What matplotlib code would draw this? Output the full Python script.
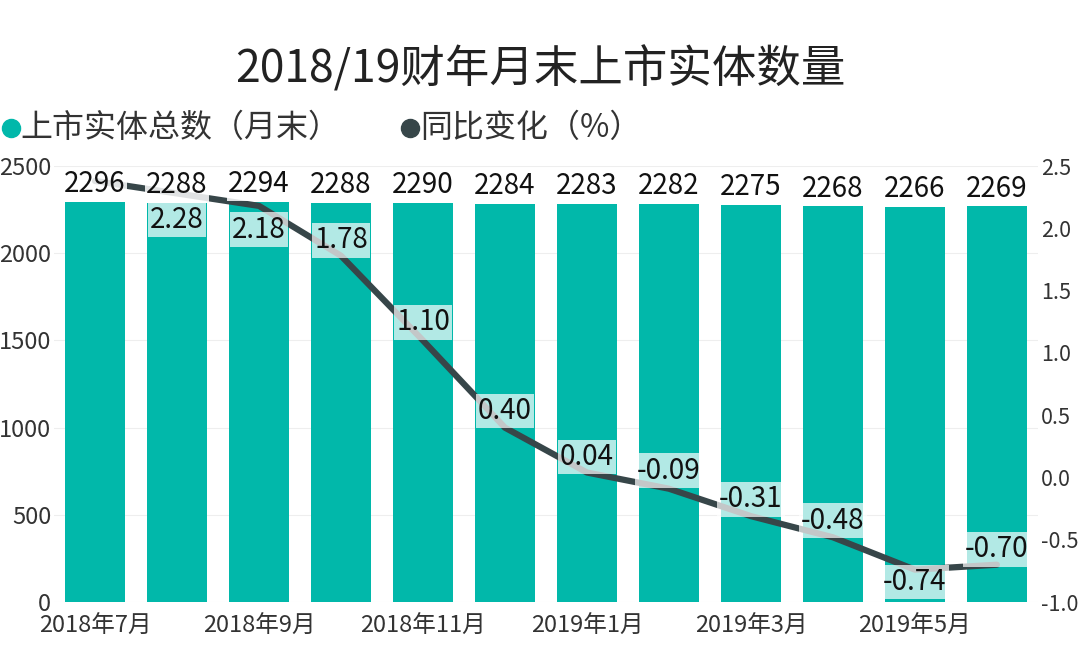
import numpy as np
import matplotlib
matplotlib.use("Agg")
import matplotlib.pyplot as plt
from matplotlib.lines import Line2D

plt.rcParams['font.family'] = ['Noto Sans CJK SC', 'DejaVu Sans']

# data
months = ['2018年7月', '2018年8月', '2018年9月', '2018年10月', '2018年11月', '2018年12月',
          '2019年1月', '2019年2月', '2019年3月', '2019年4月', '2019年5月', '2019年6月']
listed = [2296, 2288, 2294, 2288, 2290, 2284, 2283, 2282, 2275, 2268, 2266, 2269]
yoy = [2.38, 2.28, 2.18, 1.78, 1.10, 0.40, 0.04, -0.09, -0.31, -0.48, -0.74, -0.70]
# label offsets (points) for the line labels, None = no label
yoy_offset = [None, -19, -17, 11, 13, 12, 11, 13, 12, 12, -9, 11]
legend_labels = ['上市实体总数（月末）', '同比变化（%）']

teal = '#01B8AA'
dark = '#374649'

fig = plt.figure(figsize=(10.8, 6.46), dpi=100)
ax = fig.add_axes([0.05, 0.068, 0.911, 0.675])
ax2 = ax.twinx()

x = np.arange(len(months))
ax.bar(x, listed, width=0.73, color=teal, zorder=2)
ax.set_xlim(-0.5, len(months) - 0.5)
ax.set_ylim(0, 2500)
ax.set_yticks(np.arange(0, 2501, 500))
ax.grid(axis='y', color='#eeeeee', linewidth=0.8, zorder=0)
ax.set_axisbelow(True)

ax2.set_ylim(-1.0, 2.5)
ax2.set_yticks(np.arange(-1.0, 2.51, 0.5))
ax2.set_yticklabels([f'{v:.1f}' for v in np.arange(-1.0, 2.51, 0.5)])
ax2.plot(x, yoy, color=dark, linewidth=4.5, solid_capstyle='round', zorder=3)

for a in (ax, ax2):
    for s in a.spines.values():
        s.set_visible(False)
    a.tick_params(length=0, labelsize=16, colors='#333333')

ax.set_xticks(x[::2])
ax.set_xticklabels(months[::2], fontsize=17)
ax.tick_params(axis='x', pad=9)
ax.tick_params(axis='y', pad=2, labelsize=17)
ax2.tick_params(axis='y', pad=2, labelsize=15.5)

# bar labels
for xi, v in zip(x, listed):
    ax2.annotate(f'{v}', xy=(xi, -1.0 + v / 2500 * 3.5), xytext=(0, 2), textcoords='offset points',
                 ha='center', va='bottom', fontsize=20, color='#111111', zorder=6,
                 bbox=dict(boxstyle='square,pad=0.05', fc='white', ec='none', alpha=0.85))

# line labels
for xi, v, off in zip(x, yoy, yoy_offset):
    if off is None:
        continue
    ax2.annotate(f'{v:.2f}', xy=(xi, v), xytext=(0, off), textcoords='offset points',
                 ha='center', va='center', fontsize=20, color='#111111', zorder=5,
                 bbox=dict(boxstyle='square,pad=0.08', fc='white', ec='none', alpha=0.7))

fig.text(0.5, 0.893, '2018/19财年月末上市实体数量', ha='center', va='center', fontsize=32, color='#222222')

# legend drawn by hand: marker + text
leg_y = 0.802
for mx, tx, c, lab in [(0.010, 0.019, teal, legend_labels[0]), (0.380, 0.389, dark, legend_labels[1])]:
    fig.add_artist(Line2D([mx], [leg_y], marker='o', linestyle='none', color=c, markersize=13,
                          transform=fig.transFigure))
    fig.text(tx, leg_y, lab, ha='left', va='center', fontsize=23, color='#333333')

fig.savefig('out.png', dpi=100)
